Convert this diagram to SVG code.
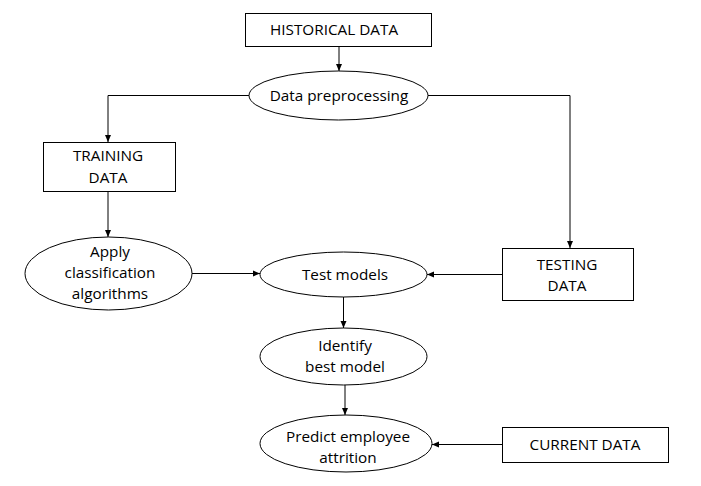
<svg xmlns="http://www.w3.org/2000/svg" width="701" height="486" viewBox="0 0 701 486">
<style>
.box{fill:#fff;stroke:#000;stroke-width:1}
.t{font-family:"Open Sans","Liberation Sans",sans-serif;font-size:15.3px;fill:#000;text-anchor:middle}
.c{fill:none;stroke:#000;stroke-width:1}
</style>
<defs>
<marker id="a" markerWidth="8" markerHeight="8" refX="7" refY="4" orient="auto" markerUnits="userSpaceOnUse">
<path d="M0,1 L7,4 L0,7 Z" fill="#000"/>
</marker>
</defs>
<rect width="701" height="486" fill="#fff"/>
<g id="connectors">
<path class="c" d="M339,46 V71" marker-end="url(#a)"/>
<path class="c" d="M249,95.5 H108 V142" marker-end="url(#a)"/>
<path class="c" d="M428,95.5 H570 V248" marker-end="url(#a)"/>
<path class="c" d="M108,191 V237" marker-end="url(#a)"/>
<path class="c" d="M192,273.5 H260" marker-end="url(#a)"/>
<path class="c" d="M502,274.5 H427" marker-end="url(#a)"/>
<path class="c" d="M343.5,297 V328" marker-end="url(#a)"/>
<path class="c" d="M345,385 V415" marker-end="url(#a)"/>
<path class="c" d="M502,444.5 H432" marker-end="url(#a)"/>
</g>
<g id="historical">
<rect class="box" x="245.5" y="13.5" width="186" height="33"/>
<text class="t" x="334" y="35">HISTORICAL DATA</text>
</g>
<g id="preprocessing">
<ellipse class="box" cx="338.5" cy="95.5" rx="89.5" ry="24.5"/>
<text class="t" x="339" y="101">Data preprocessing</text>
</g>
<g id="training">
<rect class="box" x="43.5" y="142.5" width="132" height="49"/>
<text class="t" x="108" y="161">TRAINING</text>
<text class="t" x="108" y="183">DATA</text>
</g>
<g id="classification">
<ellipse class="box" cx="108.5" cy="273.5" rx="83.5" ry="36.5"/>
<text class="t" x="110" y="257">Apply</text>
<text class="t" x="110" y="278">classification</text>
<text class="t" x="110" y="299">algorithms</text>
</g>
<g id="test">
<ellipse class="box" cx="343.5" cy="274.5" rx="83.5" ry="22.5"/>
<text class="t" x="345" y="280">Test models</text>
</g>
<g id="testing">
<rect class="box" x="502.5" y="248.5" width="131" height="52"/>
<text class="t" x="567" y="270">TESTING</text>
<text class="t" x="567" y="291">DATA</text>
</g>
<g id="identify">
<ellipse class="box" cx="343.5" cy="356.5" rx="83.5" ry="28.5"/>
<text class="t" x="345" y="351">Identify</text>
<text class="t" x="345" y="372">best model</text>
</g>
<g id="predict">
<ellipse class="box" cx="346" cy="443.5" rx="86" ry="28.5"/>
<text class="t" x="348" y="442">Predict employee</text>
<text class="t" x="348" y="463">attrition</text>
</g>
<g id="current">
<rect class="box" x="502.5" y="427.5" width="166" height="35"/>
<text class="t" x="585" y="450">CURRENT DATA</text>
</g>
</svg>
